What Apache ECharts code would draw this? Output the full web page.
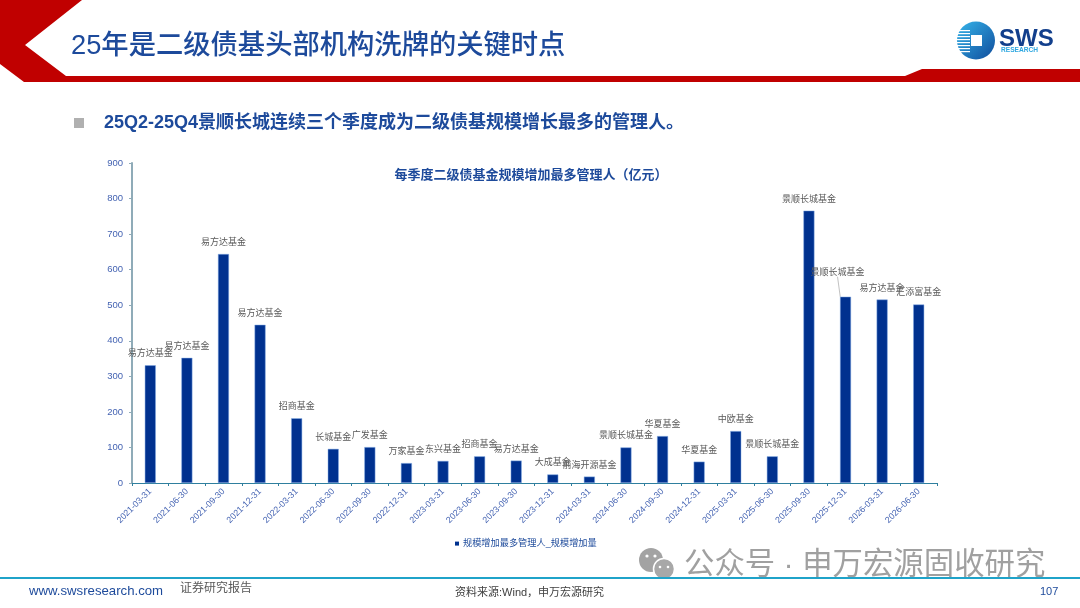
<!DOCTYPE html>
<html><head><meta charset="utf-8">
<style>html,body{margin:0;padding:0;background:#fff}#c{width:1080px;height:608px}</style>
<script src="https://cdn.jsdelivr.net/npm/echarts@6/dist/echarts.min.js"></script>
</head><body><div id="c"></div>
<script>
const categories = ['2021-03-31','2021-06-30','2021-09-30','2021-12-31','2022-03-31','2022-06-30','2022-09-30','2022-12-31','2023-03-31','2023-06-30','2023-09-30','2023-12-31','2024-03-31','2024-06-30','2024-09-30','2024-12-31','2025-03-31','2025-06-30','2025-09-30','2025-12-31','2026-03-31','2026-06-30'];
const managers = ['易方达基金','易方达基金','易方达基金','易方达基金','招商基金','长城基金','广发基金','万家基金','东兴基金','招商基金','易方达基金','大成基金','前海开源基金','景顺长城基金','华夏基金','华夏基金','中欧基金','景顺长城基金','景顺长城基金','景顺长城基金','易方达基金','汇添富基金'];
const values = [331,352,644,445,182,96,101,56,62,75,63,24,18,100,132,60,146,75,766,524,516,502];
const yTicks = {min:0,max:900,interval:100};
const seriesName = '规模增加最多管理人_规模增加量';
const chartTitle = '每季度二级债基金规模增加最多管理人（亿元）';
const pageTitle = '25年是二级债基头部机构洗牌的关键时点';
const subTitle = '25Q2-25Q4景顺长城连续三个季度成为二级债基规模增长最多的管理人。';
const CJK = '"Liberation Sans","Noto Sans CJK SC",sans-serif';
const blue = '#1d4a9b';
const txt = (x,y,text,size,fill,extra)=>({type:'text',silent:true,style:Object.assign({x,y,text,fontSize:size,fill,fontFamily:CJK,textVerticalAlign:'middle'},extra||{})});
const poly = (points,fill)=>({type:'polygon',silent:true,shape:{points},style:{fill}});
const stripes = [30,33,36,39,42,45,48,51].map(y=>({type:'rect',silent:true,shape:{x:957,y,width:13,height:1.2},style:{fill:'#ffffff'}}));
const dot = (cx,cy,r)=>({type:'circle',silent:true,shape:{cx,cy,r},style:{fill:'#ffffff'}});
const chart = echarts.init(document.getElementById('c'),null,{renderer:'canvas'});
chart.setOption({
  animation:false,
  backgroundColor:'#ffffff',
  title:{text:chartTitle,left:526,top:164,textAlign:'center',textStyle:{fontSize:13,fontWeight:'bold',color:blue,fontFamily:CJK}},
  legend:{show:true,left:450,top:534,itemWidth:4,itemHeight:4,itemGap:3,icon:'rect',itemStyle:{borderWidth:0},textStyle:{fontSize:9.2,color:blue,fontFamily:CJK,padding:[0,0,0,-1]}},
  grid:{left:132,right:143,top:163,bottom:125,containLabel:false},
  xAxis:{type:'category',data:categories,boundaryGap:true,
    axisLine:{lineStyle:{color:'#2f7f9e',width:1}},
    axisTick:{show:true,alignWithLabel:false,length:3,lineStyle:{color:'#2f7f9e'},interval:0},
    axisLabel:{interval:0,rotate:45,fontSize:8.8,color:'#4463b2',margin:7,fontFamily:CJK}},
  yAxis:{type:'value',min:yTicks.min,max:yTicks.max,interval:yTicks.interval,
    axisLine:{show:true,lineStyle:{color:'#8fabb8',width:2}},
    axisTick:{show:true,length:3,lineStyle:{color:'#8fabb8'}},
    splitLine:{show:false},
    axisLabel:{fontSize:9.5,color:'#4463b2',margin:9,fontFamily:CJK}},
  series:[{type:'bar',name:seriesName,
    data:values.map((v,i)=>i===19?{value:v,labelLine:{show:true,lineStyle:{color:'#a6a6a6',width:0.7}}}:v),
    barWidth:11,
    itemStyle:{color:'#00318f',borderColor:'#86aee6',borderWidth:0.5},
    label:{show:true,position:'top',distance:7,fontSize:9,color:'#595959',fontFamily:CJK,
      formatter:p=>managers[p.dataIndex]},
    labelLine:{show:false},
    labelLayout:p=>p.dataIndex===19?{dx:-8,dy:-13}:{}}],
  graphic:{elements:[
    poly([[0,0],[82,0],[25,45],[66,76],[905,76],[922,69],[1080,69],[1080,82],[24,82],[0,64]],'#c00000'),
    txt(71,46,pageTitle,27.3,blue,{fontWeight:500}),
    {type:'circle',silent:true,shape:{cx:976,cy:40.5,r:19},style:{fill:new echarts.graphic.LinearGradient(0,0,1,1,[{offset:0,color:'#36b5ea'},{offset:1,color:'#104c9c'}])}},
    ...stripes,
    {type:'rect',silent:true,shape:{x:971,y:35,width:11,height:11},style:{fill:'#ffffff'}},
    txt(999,39,'SWS',24,'#123f8c',{fontWeight:'bold'}),
    txt(1001,50.5,'RESEARCH',6.6,'#2ea7e0',{fontWeight:'bold'}),
    {type:'rect',silent:true,shape:{x:74,y:118,width:10,height:10},style:{fill:'#b0b0b0'}},
    txt(104,123,subTitle,18,blue,{fontWeight:'bold'}),
    {type:'circle',silent:true,shape:{cx:651,cy:560,r:12},style:{fill:'#a3a3a3'}},
    {type:'circle',silent:true,shape:{cx:664,cy:569,r:10.5},style:{fill:'#a8a8a8',stroke:'#ffffff',lineWidth:1.5}},
    dot(647,556,1.6),dot(655,556,1.6),dot(660,567,1.3),dot(668,567,1.3),
    txt(684,566,'公众号 · 申万宏源固收研究',30.4,'#a0a0a0'),
    {type:'rect',silent:true,shape:{x:0,y:577,width:1080,height:2},style:{fill:'#1fa3c9'}},
    txt(29,591.5,'www.swsresearch.com',13.2,'#1d4a9b'),
    txt(180,589,'证券研究报告',12,'#595959'),
    txt(455,593,'资料来源:Wind，申万宏源研究',11,'#404040'),
    txt(1040,592,'107',11,'#1d4a9b')
  ]}
});
</script></body></html>
